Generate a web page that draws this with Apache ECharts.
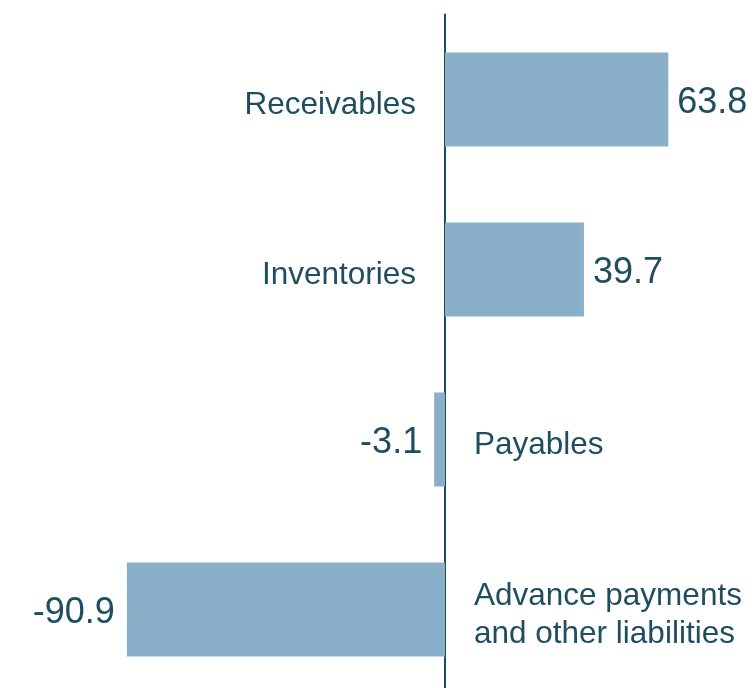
<!DOCTYPE html>
<html>
<head>
<meta charset="utf-8">
<script src="https://cdn.jsdelivr.net/npm/echarts@6/dist/echarts.min.js"></script>
<style>
  html, body { margin: 0; padding: 0; background: #ffffff; }
  #chart { width: 756px; height: 688px; }
</style>
</head>
<body>
<div id="chart"></div>
<script>
// Contributions to the change, by item
const categories = ['Receivables', 'Inventories', 'Payables', 'Advance payments\nand other liabilities'];
const values = [63.8, 39.7, -3.1, -90.9];

const BAR_COLOR = '#8AB0C9';
const TEXT_COLOR = '#1F4E5F';
const AXIS_COLOR = '#1B4D5B';
const FONT = '"Liberation Sans", Arial, sans-serif';

const chart = echarts.init(document.getElementById('chart'), null, { renderer: 'canvas' });

// Value labels sit at the outer end of each bar
const valueData = values.map(v => ({
  value: v,
  label: { position: v >= 0 ? 'right' : 'left', distance: v >= 0 ? 9 : 12 }
}));

// Category names sit on the opposite side of the zero line
const nameData = values.map((v, i) => ({
  value: v,
  label: {
    position: v >= 0 ? 'left' : 'right',
    align: v >= 0 ? 'right' : 'left',
    formatter: categories[i]
  }
}));

chart.setOption({
  animation: false,
  grid: { left: 25, width: 700, top: 14.5, height: 680, outerBoundsMode: 'none', containLabel: false },
  xAxis: {
    type: 'value',
    min: -120,
    max: 80,
    axisLine: { show: false },
    axisTick: { show: false },
    axisLabel: { show: false },
    splitLine: { show: false }
  },
  yAxis: {
    type: 'category',
    inverse: true,
    data: categories,
    axisLine: { show: true, onZero: true, lineStyle: { color: AXIS_COLOR, width: 2 } },
    axisTick: { show: false },
    axisLabel: { show: false },
    splitLine: { show: false }
  },
  series: [
    {
      type: 'bar',
      barWidth: 94,
      data: valueData,
      itemStyle: { color: BAR_COLOR },
      label: {
        show: true,
        offset: [0, 4],
        color: TEXT_COLOR,
        fontFamily: FONT,
        fontSize: 36,
        formatter: p => p.value.toFixed(1)
      },
      z: 2
    },
    {
      type: 'bar',
      barWidth: 94,
      barGap: '-100%',
      data: nameData,
      itemStyle: { color: 'rgba(0,0,0,0)' },
      label: {
        show: true,
        distance: 29,
        offset: [0, 6],
        color: TEXT_COLOR,
        fontFamily: FONT,
        fontSize: 31.5,
        lineHeight: 38
      },
      silent: true,
      z: 3
    }
  ]
});
</script>
</body>
</html>
